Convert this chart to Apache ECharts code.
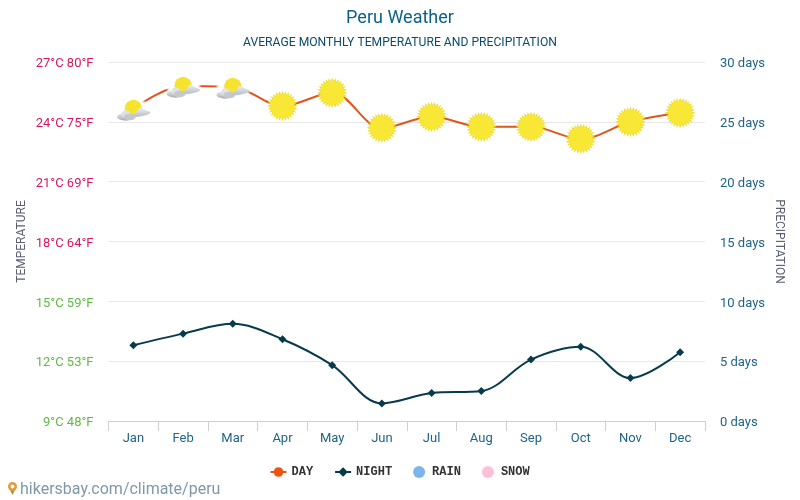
<!DOCTYPE html>
<html><head><meta charset="utf-8">
<script src="https://cdn.jsdelivr.net/npm/echarts@6/dist/echarts.min.js"></script>
<style>html,body{margin:0;padding:0;background:#fff}#c{width:800px;height:500px}</style>
</head><body><div id="c"></div>
<script>
const months = ['Jan','Feb','Mar','Apr','May','Jun','Jul','Aug','Sep','Oct','Nov','Dec'];
const dayTemps = [24.65,25.8,25.75,24.8,25.45,23.7,24.25,23.75,23.75,23.15,24,24.45];
const nightTemps = [12.8,13.38,13.87,13.1,11.8,9.88,10.4,10.5,12.08,12.72,11.15,12.45];
const dayIcons = ['cloud','cloud','cloud','sun','sun','sun','sun','sun','sun','sun','sun','sun'];
const fahrenheit = {9:48,12:53,15:59,18:64,21:69,24:75,27:80};
const rainDays = [];
const snowDays = [];

function sunSvg(){
  let pts='';const n=28;
  for(let i=0;i<n*2;i++){
    const r=i%2?13.8:18, a=Math.PI*i/n;
    pts+=(20+r*Math.cos(a)).toFixed(2)+','+(20+r*Math.sin(a)).toFixed(2)+' ';
  }
  return '<svg xmlns="http://www.w3.org/2000/svg" width="80" height="80" viewBox="0 0 40 40"><polygon points="'+pts+'" fill="#efdc2e"/><circle cx="20" cy="20" r="14" fill="#f8e835"/></svg>';
}
function cloudSvg(){
  return '<svg xmlns="http://www.w3.org/2000/svg" width="108" height="72" viewBox="0 0 36 24">'+
  '<defs><linearGradient id="g" x1="0" y1="0" x2="0" y2="1"><stop offset="0" stop-color="#e8eaec"/><stop offset="1" stop-color="#a8acb2"/></linearGradient>'+
  '<linearGradient id="h" x1="0" y1="0" x2="0" y2="1"><stop offset="0" stop-color="#eceef0"/><stop offset="1" stop-color="#b8bbc0"/></linearGradient>'+
  '<filter id="b" x="-30%" y="-30%" width="160%" height="160%"><feGaussianBlur stdDeviation="1.3"/></filter></defs>'+
  '<ellipse cx="18" cy="12" rx="16.5" ry="10.5" fill="#fff" filter="url(#b)"/>'+
  '<circle cx="17.5" cy="10.5" r="8.6" fill="#f6e32e"/>'+
  '<path d="M11 19 C17 17 21 15 23.5 10 C27 10 29 12.5 31 13 C34 13.5 35.5 15 34 16 C30 18 20 20 11 19z" fill="url(#h)"/>'+
  '<ellipse cx="10" cy="19" rx="8.8" ry="3.8" fill="url(#g)"/>'+
  '<circle cx="10" cy="16.3" r="4" fill="#dfe1e4"/>'+
  '<ellipse cx="14" cy="19" rx="6" ry="3.2" fill="#c4c7cb"/>'+
  '</svg>';
}
const uri = s => 'image://data:image/svg+xml;charset=utf-8,'+encodeURIComponent(s);
const sunUri = uri(sunSvg()), cloudUri = uri(cloudSvg());

const chart = echarts.init(document.getElementById('c'), null, {renderer:'canvas', width:800, height:500});
const font = 'Roboto';
const tickStyle = color => ({fontFamily:font,fontSize:13,color,padding:[4,0,0,0]});
chart.setOption({
  animation:false,
  backgroundColor:'#fff',
  title:{
    text:'Peru Weather', left:'center', top:4,
    textStyle:{fontFamily:font,fontSize:18,fontWeight:'normal',color:'#0c6286'},
    subtext:'AVERAGE MONTHLY TEMPERATURE AND PRECIPITATION', itemGap:10,
    subtextStyle:{fontFamily:font,fontSize:12.15,color:'#0b4a6b'}
  },
  legend:{
    left:264.5, top:461, itemGap:21, itemWidth:16, itemHeight:12,
    textStyle:{fontFamily:'Liberation Mono',fontSize:12,fontWeight:'bold',color:'#333'},
    data:[{name:'DAY'},{name:'NIGHT'},{name:'RAIN',icon:'circle'},{name:'SNOW',icon:'circle'}]
  },
  grid:{left:108.5,right:95,top:62,bottom:79,containLabel:false},
  xAxis:{
    type:'category', data:months, boundaryGap:true,
    axisLine:{lineStyle:{color:'#ccd0d6'}},
    axisTick:{show:true,length:10,lineStyle:{color:'#ccd0d6'}},
    axisLabel:{fontFamily:font,fontSize:13,color:'#1f6488',margin:11}
  },
  yAxis:[{
    type:'value', min:9, max:27, interval:3,
    name:'TEMPERATURE', nameLocation:'middle', nameGap:81, nameRotate:90, nameMoveOverlap:false,
    nameTextStyle:{fontFamily:font,fontSize:12,color:'#5a5f73'},
    axisLine:{show:false}, axisTick:{show:false},
    splitLine:{lineStyle:{color:'#e8e8e8'}},
    axisLabel:{
      margin:15,
      formatter:v=>'{'+(v>=18?'hot':'cold')+'|'+v+'°C '+fahrenheit[v]+'°F}',
      rich:{hot:tickStyle('#d6175f'),cold:tickStyle('#62b846')}
    }
  },{
    type:'value', min:0, max:30, interval:5,
    name:'PRECIPITATION', nameLocation:'middle', nameGap:68, nameRotate:-90, nameMoveOverlap:false,
    nameTextStyle:{fontFamily:font,fontSize:12,color:'#5a5f73'},
    axisLine:{show:false}, axisTick:{show:false}, splitLine:{show:false},
    axisLabel:{margin:15,formatter:'{d|{value} days}',rich:{d:tickStyle('#1f6488')}}
  }],
  series:[{
    name:'DAY', type:'line', smooth:0.35, yAxisIndex:0, z:3,
    symbol:'circle', symbolSize:7,
    itemStyle:{color:'#f0510f'}, lineStyle:{color:'#e0561a',width:2},
    data:dayTemps.map((v,i)=>({
      value:v,
      symbol:dayIcons[i]==='sun'?sunUri:cloudUri,
      symbolSize:dayIcons[i]==='sun'?[34,34]:[36,24],
      symbolOffset:dayIcons[i]==='sun'?[0,0]:[0.5,1]
    }))
  },{
    name:'NIGHT', type:'line', smooth:0.35, yAxisIndex:0, z:3,
    symbol:'diamond', symbolSize:8,
    itemStyle:{color:'#073b4c'}, lineStyle:{color:'#073b4c',width:2},
    data:nightTemps
  },{
    name:'RAIN', type:'line', yAxisIndex:1, symbol:'circle',
    itemStyle:{color:'#7cb5ec'}, lineStyle:{width:0}, data:rainDays
  },{
    name:'SNOW', type:'line', yAxisIndex:1, symbol:'circle',
    itemStyle:{color:'#ffc0d4'}, lineStyle:{width:0}, data:snowDays
  }],
  graphic:[{
    type:'text', left:20, top:482,
    style:{text:'hikersbay.com/climate/peru',fontFamily:font,fontSize:16,fill:'#7f98a8'}
  },{
    type:'polygon', left:8.5, top:487,
    shape:{points:[[0,0],[8,0],[4,8]]}, style:{fill:'#8f9a45'}
  },{
    type:'circle', left:8, top:482,
    shape:{r:3.2}, style:{fill:'#fff',stroke:'#e59a3a',lineWidth:2.6}
  }]
});
</script></body></html>
